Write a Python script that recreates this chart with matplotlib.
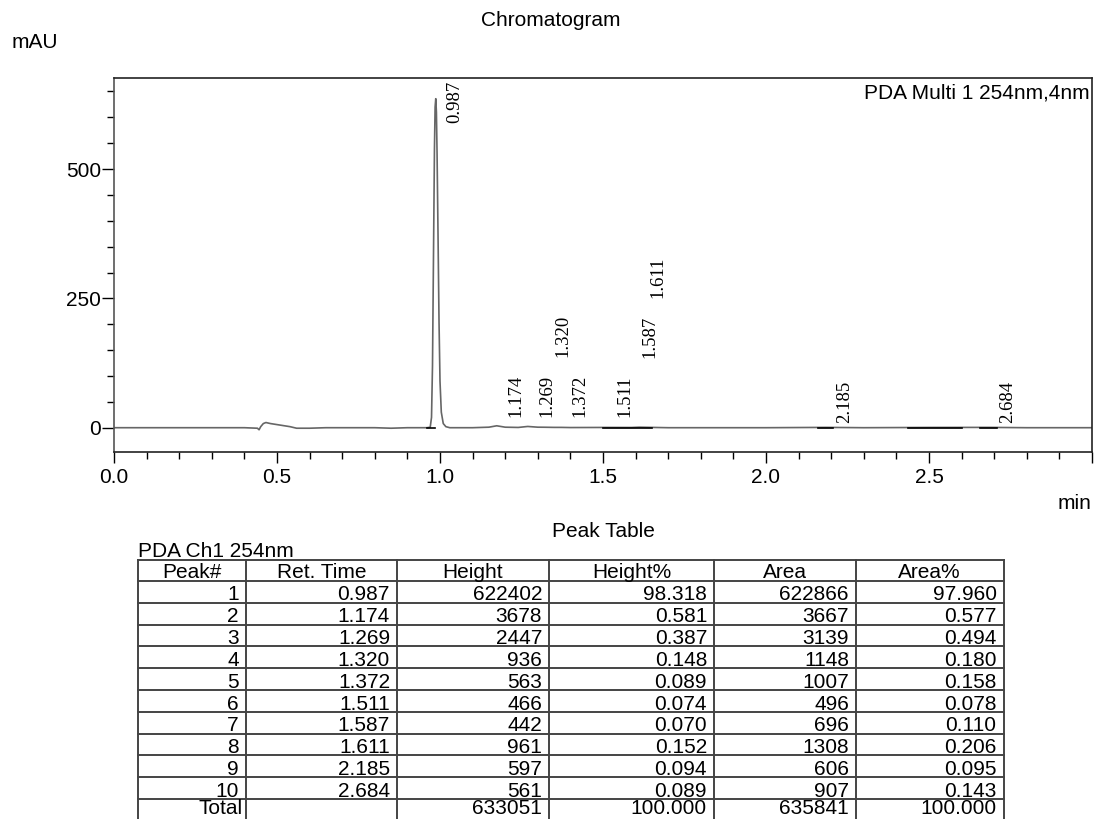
import matplotlib
matplotlib.use("Agg")
import matplotlib.pyplot as plt
import matplotlib.transforms as mtransforms
from matplotlib.ticker import FixedLocator, MultipleLocator, FuncFormatter

plt.rcParams['font.family'] = ['Liberation Sans', 'DejaVu Sans']

# ---------------- data ----------------
# chromatogram trace (min, mAU)
trace_time = [0.000, 0.200, 0.400, 0.440, 0.445, 0.450, 0.458, 0.466, 0.480,
              0.500, 0.520, 0.540, 0.560, 0.600, 0.650, 0.800, 0.850, 0.900,
              0.960, 0.970, 0.974, 0.977, 0.980, 0.983, 0.985, 0.987, 0.989,
              0.991, 0.994, 0.997, 1.000, 1.004, 1.010, 1.018, 1.030, 1.100,
              1.150, 1.174, 1.200, 1.240, 1.269, 1.300, 1.320, 1.350, 1.372,
              1.400, 1.511, 1.587, 1.611, 1.700, 2.000, 2.185, 2.300, 2.500,
              2.684, 2.800, 3.000]
trace_mau = [0.0, 0.0, 0.0, -1.0, -4.0, 2.0, 8.0, 10.0, 8.0,
             6.0, 4.0, 2.0, -1.0, -1.0, 0.0, 0.0, -1.0, 0.0,
             0.0, 1.0, 20.0, 120.0, 330.0, 540.0, 620.0, 636.0, 610.0,
             530.0, 370.0, 205.0, 90.0, 30.0, 8.0, 2.0, 0.0, 0.0,
             1.0, 3.7, 1.0, 0.5, 2.4, 1.0, 0.9, 0.6, 0.6,
             0.3, 0.5, 0.4, 1.0, 0.0, 0.0, 0.6, 0.0, 0.5,
             0.6, 0.0, 0.0]

# integration baseline segments (start, end in min)
base_start = [0.960, 1.500, 2.160, 2.435, 2.656]
base_end = [0.985, 1.650, 2.205, 2.600, 2.710]

# peak table
peak_no = ["1", "2", "3", "4", "5", "6", "7", "8", "9", "10"]
ret_time = ["0.987", "1.174", "1.269", "1.320", "1.372", "1.511", "1.587", "1.611", "2.185", "2.684"]
height = ["622402", "3678", "2447", "936", "563", "466", "442", "961", "597", "561"]
height_pct = ["98.318", "0.581", "0.387", "0.148", "0.089", "0.074", "0.070", "0.152", "0.094", "0.089"]
area = ["622866", "3667", "3139", "1148", "1007", "496", "696", "1308", "606", "907"]
area_pct = ["97.960", "0.577", "0.494", "0.180", "0.158", "0.078", "0.110", "0.206", "0.095", "0.143"]
total_row = ["Total", "", "633051", "100.000", "635841", "100.000"]
headers = ["Peak#", "Ret. Time", "Height", "Height%", "Area", "Area%"]

# peak label baseline heights (mAU) – layout
label_y = [589, 20, 20, 136, 20, 20, 134, 250, 10, 10]

# ---------------- figure ----------------
W, H = 1097, 819
fig = plt.figure(figsize=(W / 100, H / 100), dpi=100)

ax = fig.add_axes([114 / W, 1 - 451.5 / H, (1092 - 114) / W, (451.5 - 78) / H])
ax.plot(trace_time, trace_mau, color='#666666', lw=1.2, solid_joinstyle='round')
for s, e in zip(base_start, base_end):
    ax.plot([s, e], [0, 0], color='black', lw=1.2)

ax.set_xlim(0, 3.0)
ax.set_ylim(-46, 676)

ax.xaxis.set_major_locator(FixedLocator([0, 0.5, 1.0, 1.5, 2.0, 2.5, 3.0]))
ax.xaxis.set_major_formatter(FuncFormatter(lambda v, p: "" if v > 2.9 else f"{v:.1f}"))
ax.xaxis.set_minor_locator(MultipleLocator(0.1))
ax.yaxis.set_major_locator(FixedLocator([0, 250, 500]))
ax.yaxis.set_minor_locator(MultipleLocator(50))

ax.tick_params(axis='x', which='major', length=8, width=1, pad=4, labelsize=15, direction='out')
ax.tick_params(axis='x', which='minor', length=5, width=1, direction='out')
ax.tick_params(axis='y', which='major', length=9, width=1, pad=0.5, labelsize=15, direction='out')
ax.tick_params(axis='y', which='minor', length=5, width=1, direction='out')
for sp in ax.spines.values():
    sp.set_linewidth(1.2)
    sp.set_color('#222222')
ax.spines['left'].set_color('#555555')

# peak labels
offset = mtransforms.offset_copy(ax.transData, fig=fig, x=13.5, y=0, units='points')
for rt, ly in zip(ret_time, label_y):
    ax.text(float(rt), ly, rt, rotation=90, ha='center', va='bottom',
            transform=offset, family=['Liberation Serif', 'DejaVu Serif'], fontsize=13.5)

ax.text(0.998, 0.985, "PDA Multi 1 254nm,4nm", transform=ax.transAxes,
        ha='right', va='top', fontsize=15)

fig.text(551 / W, 1 - 20 / H, "Chromatogram", ha='center', va='center', fontsize=15)
fig.text(12 / W, 1 - 42 / H, "mAU", ha='left', va='center', fontsize=15)
fig.text(1091 / W, 1 - 503 / H, "min", ha='right', va='center', fontsize=15)

# ---------------- peak table ----------------
tax = fig.add_axes([0, 0, 1, 1])
tax.set_xlim(0, W)
tax.set_ylim(H, 0)
tax.axis('off')

col_x = [137.5, 246, 397, 549, 714, 856, 1003.5]
row_top = 560
header_h = 21
row_h = 21.8
n_rows = len(peak_no) + 1
row_lines = [row_top, row_top + header_h] + [row_top + header_h + (i + 1) * row_h for i in range(n_rows)]
line_c = '#444444'

for y in row_lines[:-1]:
    tax.plot([col_x[0], col_x[-1]], [y, y], color=line_c, lw=1.4, clip_on=False)
for x in col_x:
    tax.plot([x, x], [row_top, H + 5], color=line_c, lw=1.4, clip_on=False)

tax.text(603, 537, "Peak Table", ha='center', va='baseline', fontsize=15)
tax.text(138, 557, "PDA Ch1 254nm", ha='left', va='baseline', fontsize=15)

for j, hname in enumerate(headers):
    tax.text((col_x[j] + col_x[j + 1]) / 2, row_top + header_h - 2.5, hname,
             ha='center', va='baseline', fontsize=15)

columns = [peak_no, ret_time, height, height_pct, area, area_pct]
for i in range(len(peak_no)):
    yb = row_top + header_h + (i + 1) * row_h - 2.3
    for j, col in enumerate(columns):
        tax.text(col_x[j + 1] - 7, yb, col[i], ha='right', va='baseline', fontsize=15)

yb = H - 0.5
for j, val in enumerate(total_row):
    if val:
        pad = 3 if j == 0 else 7
        tax.text(col_x[j + 1] - pad, yb, val, ha='right', va='bottom', fontsize=15)

fig.savefig("out.png", dpi=100)
